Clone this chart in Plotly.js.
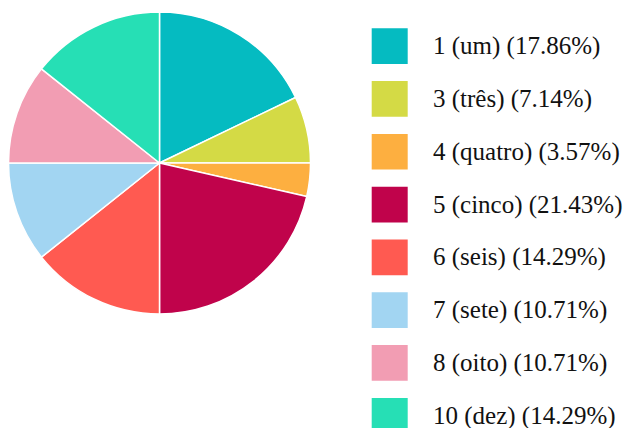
<!DOCTYPE html>
<html>
<head>
<meta charset="utf-8">
<script src="https://cdn.plot.ly/plotly-3.0.1.min.js"></script>
<style>html,body{margin:0;padding:0;background:#fff;}#chart{width:635px;height:428px;}</style>
</head>
<body>
<div id="chart"></div>
<script>
var labels = ["1 (um)", "3 (três)", "4 (quatro)", "5 (cinco)", "6 (seis)", "7 (sete)", "8 (oito)", "10 (dez)"];
var values = [5, 2, 1, 6, 4, 3, 3, 4];
var colors = ["#05BBC1", "#D4DA45", "#FDAF40", "#C0034B", "#FF5A51", "#A2D5F2", "#F29DB3", "#26DFB5"];

var W = 635, H = 428;
var total = values.reduce(function(a, b) { return a + b; }, 0);
var FONT = "Liberation Serif";

var trace = {
  type: "pie",
  labels: labels,
  values: values,
  sort: false,
  direction: "clockwise",
  rotation: 0,
  textinfo: "none",
  hoverinfo: "label+percent",
  marker: { colors: colors, line: { color: "#ffffff", width: 1.5 } },
  domain: { x: [8.5 / W, 310.5 / W], y: [1 - 314 / H, 1 - 12 / H] },
  showlegend: false
};

var shapes = [], annotations = [];
var sqX0 = 371.7, sqW = 36, sqY0 = 28.3, sqH = 35.7, step = 52.8;
labels.forEach(function(lab, i) {
  var top = sqY0 + i * step;
  shapes.push({
    type: "rect", xref: "paper", yref: "paper",
    x0: sqX0 / W, x1: (sqX0 + sqW) / W,
    y0: 1 - (top + sqH) / H, y1: 1 - top / H,
    fillcolor: colors[i], line: { width: 0 }
  });
  var pct = (values[i] / total * 100).toFixed(2);
  annotations.push({
    xref: "paper", yref: "paper",
    x: 431 / W, y: 1 - (top + sqH / 2) / H,
    xanchor: "left", yanchor: "middle",
    text: lab + " (" + pct + "%)",
    showarrow: false,
    font: { family: FONT, size: 25, color: "#111111" }
  });
});

var layout = {
  width: W, height: H,
  margin: { l: 0, r: 0, t: 0, b: 0 },
  paper_bgcolor: "#ffffff",
  font: { family: FONT, color: "#111111" },
  showlegend: false,
  shapes: shapes,
  annotations: annotations
};

Plotly.newPlot("chart", [trace], layout, { displayModeBar: false, staticPlot: true });
</script>
</body>
</html>
